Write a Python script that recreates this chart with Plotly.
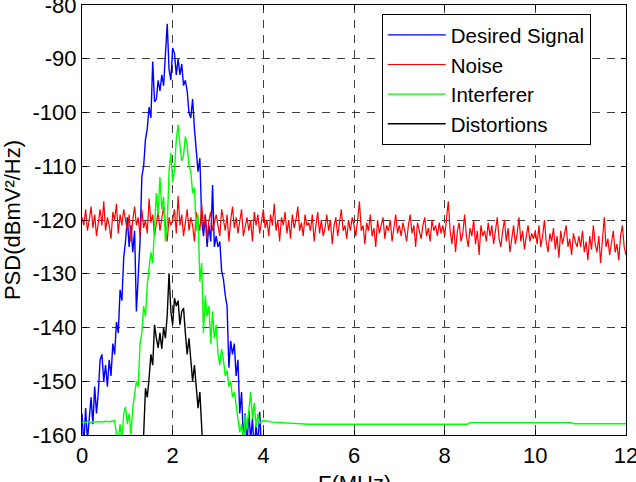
import numpy as np
import plotly.graph_objects as go

# ---- data ----
# Desired signal, 0..4 MHz
blue_v = [-156, -162, -155, -161, -157, -153, -158, -151, -156, -152,
          -146, -145, -150, -147, -151, -146, -149, -143, -145, -139,
          -141, -133, -135, -127, -124, -119.5, -125, -121, -126, -122,
          -137, -129, -124, -112, -110, -105, -103, -99, -101, -90.5,
          -98, -97.5, -94, -96, -93, -95, -90, -83.5, -92, -94,
          -88, -89, -93, -90, -93, -91, -95, -94, -96, -100,
          -101, -97.5, -103, -107.5, -111, -108.5, -120, -123, -119, -125,
          -121, -124, -113.5, -125, -123, -125, -124, -129.5, -131, -134,
          -136, -147.5, -142.5, -145, -143, -149, -146, -156, -152, -161,
          -156, -162, -155.5, -161, -157, -163, -158, -162, -155.7, -163,
          -165]
blue_f0, blue_f1 = 0.0, 4.0

# Noise, 0..12 MHz
noise_v = [
    -119.5, -121, -118, -122, -120, -117.5, -121.5, -119, -123, -120, -118, -121, -116.5, -122, -119.5, -121, -123.5, -118.5, -120, -117, -122.5, -119, -121, -118, -120.5,
    -122, -119, -124, -120, -117.5, -121, -119.5, -123, -118, -121.5, -120, -122.5, -116, -120.5, -119, -123, -121, -118.5, -122, -120, -117.5, -121, -124, -119.5, -121,
    -120, -118, -122.5, -115.5, -121, -119, -123, -120.5, -118, -122, -119.5, -121, -124, -118.5, -120, -122, -117, -121.5, -119, -123.5, -120, -118.5, -122, -120.5, -119,
    -121, -123, -118, -120.5, -122, -119, -124, -120, -117.5, -121.5, -119.5, -122.5, -120, -118, -123, -121, -119.5, -122, -120, -124, -118.5, -121, -119, -122.5, -120.5,
    -118, -121.5, -120, -123, -119, -121, -117, -122, -120, -124, -119.5, -121, -118.5, -122.5, -120, -123.5, -119, -121.5, -120, -117.5, -122, -120.5, -123, -119, -121,
    -120.5, -122, -119, -124, -121, -118.5, -122.5, -120, -123, -121.5, -119, -122, -120, -124.5, -121, -119.5, -123, -120.5, -118, -122, -121, -123.5, -120, -122, -119.5,
    -121, -123, -120, -116.5, -122, -121, -124.5, -120.5, -122, -119, -123, -121.5, -125, -120, -122.5, -121, -119.5, -123.5, -121, -122, -120, -124, -121.5, -119, -122.5,
    -121, -123, -120.5, -122, -124, -121, -119, -122.5, -121, -125, -120.5, -122, -123.5, -121, -119.5, -123, -121.5, -124, -120, -122, -121, -123, -120.5, -122.5, -121,
    -123, -120, -116.5, -122, -124.5, -121, -126, -122, -120.5, -124, -122.5, -119, -123, -125, -121.5, -123, -120, -124.5, -122, -126.5, -121, -123, -122, -124, -120.5,
    -123, -121, -124.5, -122, -119.5, -123.5, -125, -122, -120, -124, -121.5, -126, -123, -121, -124.5, -122.5, -119.5, -124, -122, -125.5, -123, -121, -124, -122.5, -123.5,
    -122, -124.5, -121, -125, -123, -120, -124, -126, -122.5, -124, -121.5, -125.5, -123, -127, -122, -124.5, -123, -121, -125, -123.5, -126.5, -122.5, -124, -125, -123,
    -125, -122, -126, -124, -127.5, -123, -125.5, -121, -124.5, -126, -123, -128, -124, -119.5, -125, -123.5, -126.5, -124, -122, -126, -124.5, -127.5, -123, -121, -125, -126.5,
]
noise_f0, noise_f1 = 0.0, 12.0

# Interferer, 0..4 MHz (detailed part)
green_v = [-157.7, -157.6, -157.7, -157.5, -157.6, -157.7, -157.5, -157.6, -157.6, -157.5,
           -157.6, -157.5, -157.6, -157.4, -157.5, -157.6, -157.4, -157.5, -157.2, -160,
           -161, -158, -161, -156, -154.8, -158, -156, -160, -155, -152,
           -150, -151, -143, -141, -136, -138, -132, -129, -126, -128,
           -122, -115, -119, -112, -118, -115.7, -124, -121, -111, -107.5,
           -113, -110.7, -105, -102.3, -106, -109, -108, -104.5, -106, -110,
           -111, -115, -114, -122, -119, -131.5, -128, -141, -134, -138,
           -136, -143, -137, -142, -139.5, -145, -147, -144, -146, -149,
           -148, -151, -150, -153, -152, -155, -157, -159.5, -158, -161,
           -156.3, -159, -155, -152, -157, -154, -158.6, -156, -157.8, -157.5,
           -157.3]
green_f0, green_f1 = 0.0, 4.0
# Interferer, flat floor beyond 4 MHz
green_tail_f = [4.2, 5.0, 6.0, 7.0, 8.0, 8.5, 8.55, 9.5, 10.8, 10.85, 12.0]
green_tail_v = [-157.6, -158.0, -158.0, -158.0, -158.0, -158.0, -157.7, -157.7, -157.7, -157.9, -157.9]

# Distortions, 1.32..2.68 MHz
black_v = [-165, -160, -151.3, -153, -149.4, -145, -147, -139.5, -142, -143.8,
           -141, -144, -140, -142, -137.7, -129.9, -137, -139.5, -134.5, -136,
           -135, -139.5, -137, -136.4, -141, -145, -142, -147, -150, -147,
           -152, -155, -152, -160, -165]
black_f0, black_f1 = 1.32, 2.68

x_ticks = [0, 2, 4, 6, 8, 10, 12]
y_ticks = [-160, -150, -140, -130, -120, -110, -100, -90, -80]
x_title = "F(MHz)"
y_title = "PSD(dBmV²/Hz)"

# ---- build ----
blue_f = np.linspace(blue_f0, blue_f1, len(blue_v))
noise_f = np.linspace(noise_f0, noise_f1, len(noise_v))
green_f = np.concatenate([np.linspace(green_f0, green_f1, len(green_v)), green_tail_f])
green_all = list(green_v) + list(green_tail_v)
black_f = np.linspace(black_f0, black_f1, len(black_v))

FONT = "Liberation Sans, Arial, sans-serif"
fig = go.Figure()
fig.add_trace(go.Scatter(x=blue_f, y=blue_v, mode="lines", name="Desired Signal",
                         line=dict(color="#0000FF", width=1.4)))
fig.add_trace(go.Scatter(x=noise_f, y=noise_v, mode="lines", name="Noise",
                         line=dict(color="#FF0000", width=1.2)))
fig.add_trace(go.Scatter(x=green_f, y=green_all, mode="lines", name="Interferer",
                         line=dict(color="#00FF00", width=1.4)))
fig.add_trace(go.Scatter(x=black_f, y=black_v, mode="lines", name="Distortions",
                         line=dict(color="#000000", width=1.4)))

axis_common = dict(
    showline=True, linecolor="black", linewidth=1.2, mirror="allticks",
    ticks="inside", ticklen=5, tickcolor="black",
    showgrid=True, gridcolor="#404040", gridwidth=1, griddash="8px,7px",
    zeroline=False, tickfont=dict(family=FONT, size=22, color="black"),
    ticklabeloverflow="allow", automargin=False,
)
fig.update_xaxes(range=[0, 12], tickvals=x_ticks, ticktext=[str(v) for v in x_ticks],
                 **axis_common)
fig.update_yaxes(range=[-160, -80], tickvals=y_ticks, ticktext=[str(v) for v in y_ticks],
                 title=dict(text=y_title, font=dict(family=FONT, size=22, color="black"), standoff=8),
                 **axis_common)
# x-axis title sits low, partly below the page edge as in the reference
fig.add_annotation(text=x_title, xref="paper", yref="paper", x=0.5, y=-0.078,
                   xanchor="center", yanchor="top", showarrow=False,
                   font=dict(family=FONT, size=22, color="black"))
fig.update_layout(
    width=636, height=482,
    margin=dict(l=82, r=10, t=5, b=47),
    plot_bgcolor="white", paper_bgcolor="white",
    font=dict(family=FONT, size=22, color="black"),
    legend=dict(x=0.551, y=0.979, xanchor="left", yanchor="top",
                bgcolor="white", bordercolor="black", borderwidth=1,
                itemwidth=58,
                font=dict(family=FONT, size=20.5, color="black")),
)
fig.write_html("out.html")
